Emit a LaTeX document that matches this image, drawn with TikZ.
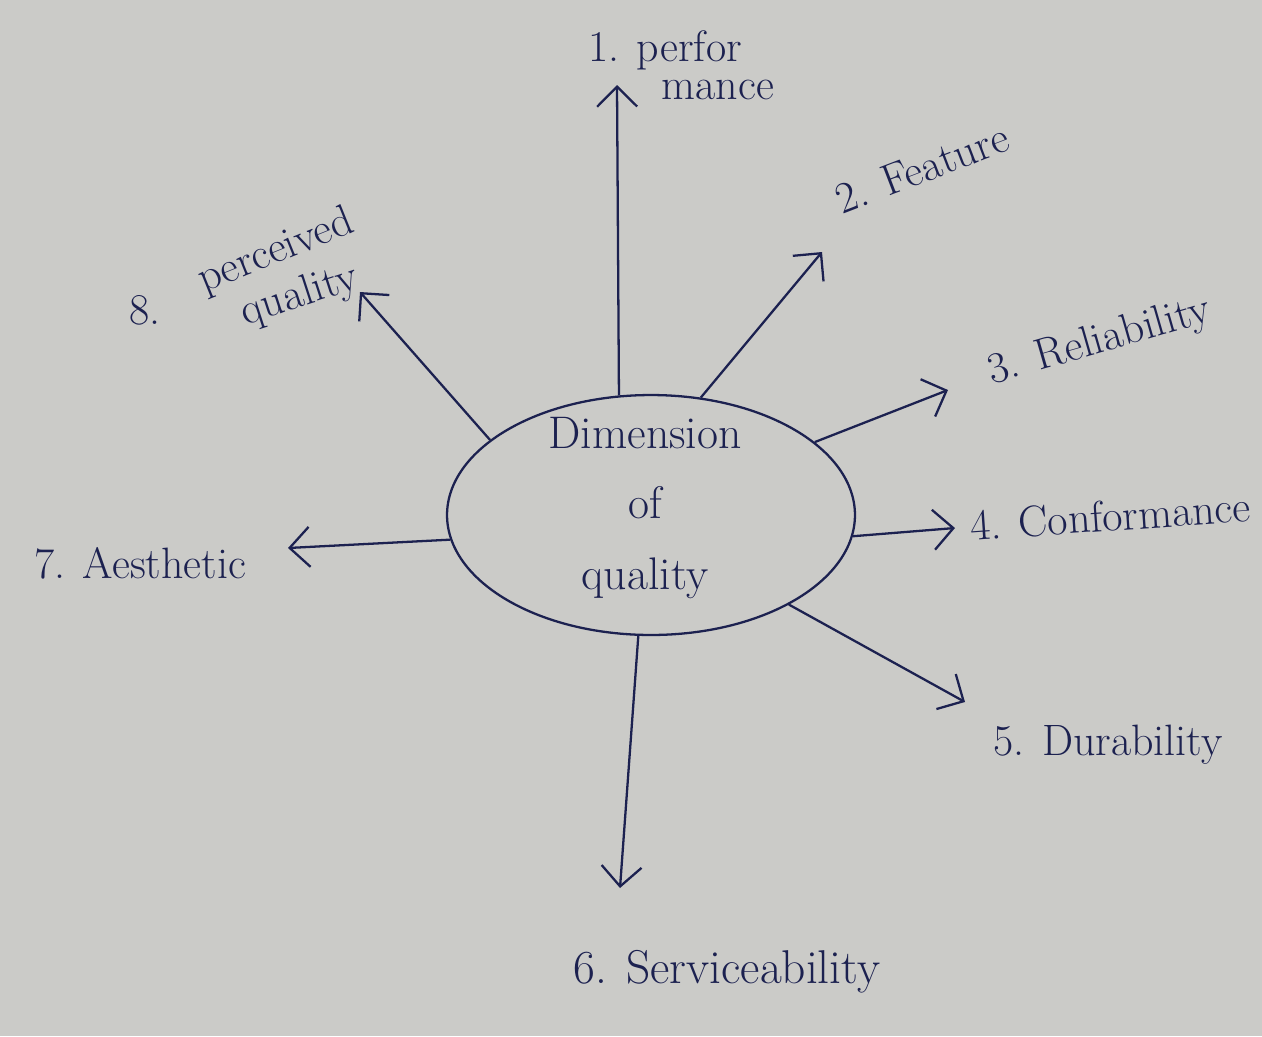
\documentclass[tikz,border=0pt]{standalone}
\usetikzlibrary{shapes.geometric,arrows.meta}
\definecolor{paper}{HTML}{CBCBC8}
\definecolor{ink}{HTML}{1C2150}
\begin{document}
\begin{tikzpicture}[x=0.02cm,y=-0.02cm,
  lbl/.style={text=ink,inner sep=1pt,font=\fontsize{25}{30}\selectfont},
  ray/.style={draw=ink,line width=1.3pt,-{Straight Barb[length=4mm,width=8mm,line width=1.3pt]}},
  blob/.style={ellipse,draw=ink,line width=1.3pt,minimum width=8.16cm,minimum height=4.8cm,inner sep=0pt}]
\fill[paper] (0,0) rectangle (1262,1036);
\useasboundingbox (0,0) rectangle (1262,1036);

\node[blob] (c) at (651,515) {};
\node[text=ink,align=center,font=\fontsize{26}{40}\selectfont] (ct) at (645,508) {Dimension\\of\\quality};

% arrow tips
\coordinate (t1) at (617,85);
\coordinate (t2) at (822,252);
\coordinate (t3) at (948,390);
\coordinate (t4) at (955,528);
\coordinate (t5) at (965,702);
\coordinate (t6) at (620,888);
\coordinate (t7) at (288,548);
\coordinate (t8) at (360,292);

\draw[ray] (c.105) -- (t1);
\draw[ray] (c.67) -- (t2);
\draw[ray] (c.24) -- (t3);
\draw[ray] (c.-6) -- (t4);
\draw[ray] (c.-33) -- (t5);
\draw[ray] (c.-96) -- (t6);
\draw[ray] (c.187) -- (t7);
\draw[ray] (c.155) -- (t8);

% labels
\node[lbl] (l1a) at (665,50) {1. perfor};
\node[lbl] (l1b) at (718,90) {mance};
\node[lbl,rotate=21] (l2) at (922,168) {2. Feature};
\node[lbl,rotate=16] (l3) at (1100,342) {3. Reliability};
\node[lbl,rotate=4] (l4) at (1110,516) {4. Conformance};
\node[lbl] (l5) at (1108,745) {5. Durability};
\node[lbl,font=\fontsize{27}{32}\selectfont] (l6) at (727,972) {6. Serviceability};
\node[lbl] (l7) at (140,563) {7. Aesthetic};
\node[lbl] (l8) at (145,310) {8.};
\node[lbl,rotate=22] (l8a) at (276,252) {perceived};
\node[lbl,rotate=18] (l8b) at (300,296) {quality};
\end{tikzpicture}
\end{document}
